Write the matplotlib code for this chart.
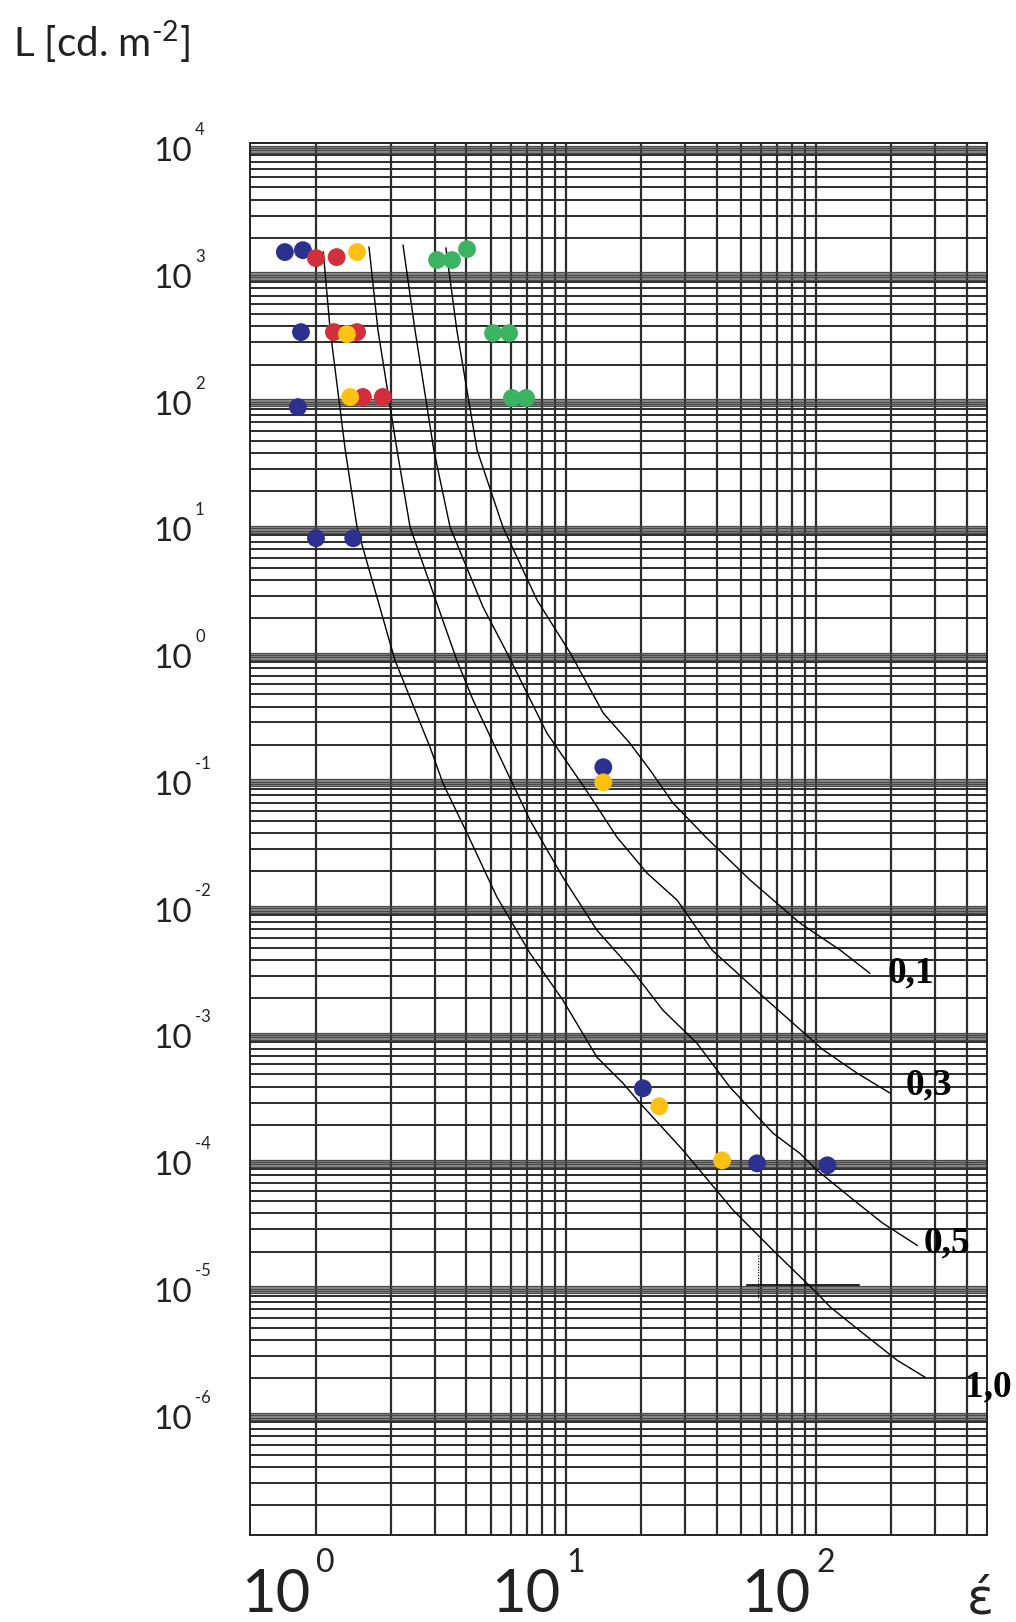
import numpy as np
import matplotlib
matplotlib.use("Agg")
import matplotlib.pyplot as plt
from matplotlib import transforms

plt.rcParams["font.family"] = ["Lato", "DejaVu Sans"]
plt.rcParams["mathtext.fontset"] = "custom"
plt.rcParams["mathtext.rm"] = "Lato"

# curves L(eps'), one per parameter value
curve_labels = ["1,0", "0,5", "0,3", "0,1"]

curve_10_x = [1.07, 1.14, 1.31, 1.46, 2.07, 2.86, 3.22, 4.02, 5.30, 7.18, 9.72, 13.3,
              16.9, 19.8, 29.4, 46.6, 67.3, 101, 114, 154, 211, 273]
curve_10_y = [1545, 374, 42.3, 10.4, 0.929, 0.191, 0.0995, 0.0401, 0.0125, 0.00453,
              0.00193, 6.84e-4, 4.27e-4, 2.96e-4, 1.26e-4, 4.25e-5, 2.05e-5, 9.4e-6,
              7.3e-6, 4.54e-6, 2.78e-6, 2.04e-6]

curve_05_x = [1.63, 1.77, 2.11, 2.38, 3.66, 4.25, 6.08, 7.18, 9.72, 13.3, 18.0, 24.4,
              33.4, 45.3, 67.3, 86.3, 101, 137, 185, 254]
curve_05_y = [1690, 374, 42.3, 10.4, 0.929, 0.450, 0.101, 0.0508, 0.0180, 0.00687,
              0.00351, 0.00161, 8.83e-4, 3.96e-4, 1.72e-4, 1.19e-4, 8.77e-5, 5.37e-5,
              3.35e-5, 2.24e-5]

curve_03_x = [2.23, 2.49, 2.96, 3.44, 4.66, 5.81, 8.39, 11.9, 16.0, 21.1, 27.8, 38.4,
              63.7, 106, 146, 198]
curve_03_y = [1750, 374, 42.3, 10.4, 2.44, 1.06, 0.247, 0.0908, 0.0372, 0.0194, 0.0119,
              0.00479, 0.00193, 7.91e-4, 5.12e-4, 3.56e-4]

curve_01_x = [3.31, 3.66, 4.41, 5.60, 7.66, 10.4, 14.1, 18.0, 21.7, 26.8, 36.6, 54.5,
              86.3, 125, 164]
curve_01_y = [1660, 374, 42.3, 10.4, 2.77, 1.06, 0.355, 0.206, 0.126, 0.0692, 0.0366,
              0.0171, 0.00782, 0.00479, 0.00315]

# measured points
blue_x = [0.751, 0.887, 0.871, 0.847, 1.0, 1.41, 14.1, 20.3, 58.1, 111]
blue_y = [1545, 1600, 361, 92.3, 8.53, 8.53, 0.133, 3.89e-4, 9.95e-5, 9.6e-5]
red_x = [1.0, 1.21, 1.18, 1.46, 1.54, 1.85]
red_y = [1384, 1410, 361, 361, 111, 111]
yellow_x = [1.46, 1.33, 1.37, 14.1, 23.6, 42.1]
yellow_y = [1545, 348, 111, 0.101, 2.81e-4, 1.05e-4]
green_x = [3.05, 3.50, 4.02, 5.11, 5.92, 6.08, 6.92]
green_y = [1337, 1337, 1630, 354, 354, 109, 109]

# reading guide near eps' = 58
guide_h_x = [53, 149]
guide_h_y = [1.1e-5, 1.1e-5]
guide_v_x = [58.6, 58.6]
guide_v_y = [1.87e-5, 8.3e-6]

# paper grid
x_grid = list(range(1, 10)) + list(range(10, 100, 10)) + [100, 200, 300, 400]
y_decades = list(range(-6, 5))
x_decades = [0, 1, 2]

GRID = "#2c2c2c"
BAND = "#8e8e8e"

fig = plt.figure(figsize=(10.16, 16.22), dpi=100)
ax = fig.add_axes([0.2461, 0.0536, 0.7254, 0.8582])
ax.set_xscale("log")
ax.set_yscale("log")
ax.set_xlim(0.545, 483)
ax.set_ylim(1.16e-7, 1.12e4)

for xv in x_grid:
    ax.axvline(xv, color=GRID, lw=1.6, zorder=1)
for k in range(-7, 4):
    for m in range(2, 10):
        ax.axhline(m * 10.0 ** k, color=GRID, lw=1.4, zorder=1)
for k in y_decades:
    ax.axhspan(10.0 ** (k - 0.028), 10.0 ** (k + 0.028), color=BAND, lw=0, zorder=0.9)
    for off in (-0.028, -0.009, 0.009, 0.028):
        ax.axhline(10.0 ** (k + off), color="#4a4a4a", lw=0.9, zorder=1)

curves = [(curve_10_x, curve_10_y), (curve_05_x, curve_05_y),
          (curve_03_x, curve_03_y), (curve_01_x, curve_01_y)]
label_offsets = {"1,0": (40, -10), "0,5": (6, 2), "0,3": (15, 8), "0,1": (18, 0)}
for (cx, cy), lbl in zip(curves, curve_labels):
    ax.plot(cx, cy, color="black", lw=1.0, zorder=3)
    ax.annotate(lbl, xy=(cx[-1], cy[-1]), xytext=label_offsets[lbl],
                textcoords="offset pixels", ha="left", va="center",
                fontsize=27, fontweight="bold", family="Liberation Serif",
                zorder=5, annotation_clip=False)

ax.plot(guide_h_x, guide_h_y, color="black", lw=1.2, zorder=3)
ax.plot(guide_v_x, guide_v_y, color="black", lw=0.8, ls=(0, (1, 1.5)), zorder=3)

ms = 165
ax.scatter(blue_x, blue_y, s=ms, color="#2c3190", edgecolors="none", zorder=4)
ax.scatter(red_x, red_y, s=ms, color="#d22f3c", edgecolors="none", zorder=4)
ax.scatter(yellow_x, yellow_y, s=ms, color="#fdc114", edgecolors="none", zorder=4)
ax.scatter(green_x, green_y, s=ms, color="#3cb263", edgecolors="none", zorder=4)

ax.set_xticks([])
ax.set_yticks([])
ax.minorticks_off()
for sp in ax.spines.values():
    sp.set_color("#222222")
    sp.set_linewidth(1.4)
    sp.set_zorder(2)

# tick labels drawn by hand to get the small raised exponents
ytrans = transforms.blended_transform_factory(ax.transAxes, ax.transData)
for e in y_decades:
    ax.annotate("10", xy=(0, 10.0 ** e), xycoords=ytrans, xytext=(-58, -12),
                textcoords="offset pixels", ha="right", va="baseline",
                fontsize=24, color="#222222", annotation_clip=False)
    ax.annotate(str(e), xy=(0, 10.0 ** e), xycoords=ytrans, xytext=(-55, 14),
                textcoords="offset pixels", ha="left", va="baseline",
                fontsize=12, color="#222222", annotation_clip=False)

xtrans = transforms.blended_transform_factory(ax.transData, ax.transAxes)
for e in x_decades:
    ax.annotate("10", xy=(10.0 ** e, 0), xycoords=xtrans, xytext=(-6, -77),
                textcoords="offset pixels", ha="right", va="baseline",
                fontsize=43, color="#222222", annotation_clip=False)
    ax.annotate(str(e), xy=(10.0 ** e, 0), xycoords=xtrans, xytext=(0, -37),
                textcoords="offset pixels", ha="left", va="baseline",
                fontsize=23, color="#222222", annotation_clip=False)

fig.text(967 / 1016, 1 - 1614 / 1622, "\u03ad", family="DejaVu Sans",
         fontsize=36, ha="left", va="baseline", color="#222222")
fig.text(13 / 1016, 1 - 57 / 1622, r"L [cd. m$^{\text{-2}}$]",
         fontsize=29, ha="left", va="baseline", color="#222222")

fig.savefig("out.png", dpi=100, facecolor="white")
